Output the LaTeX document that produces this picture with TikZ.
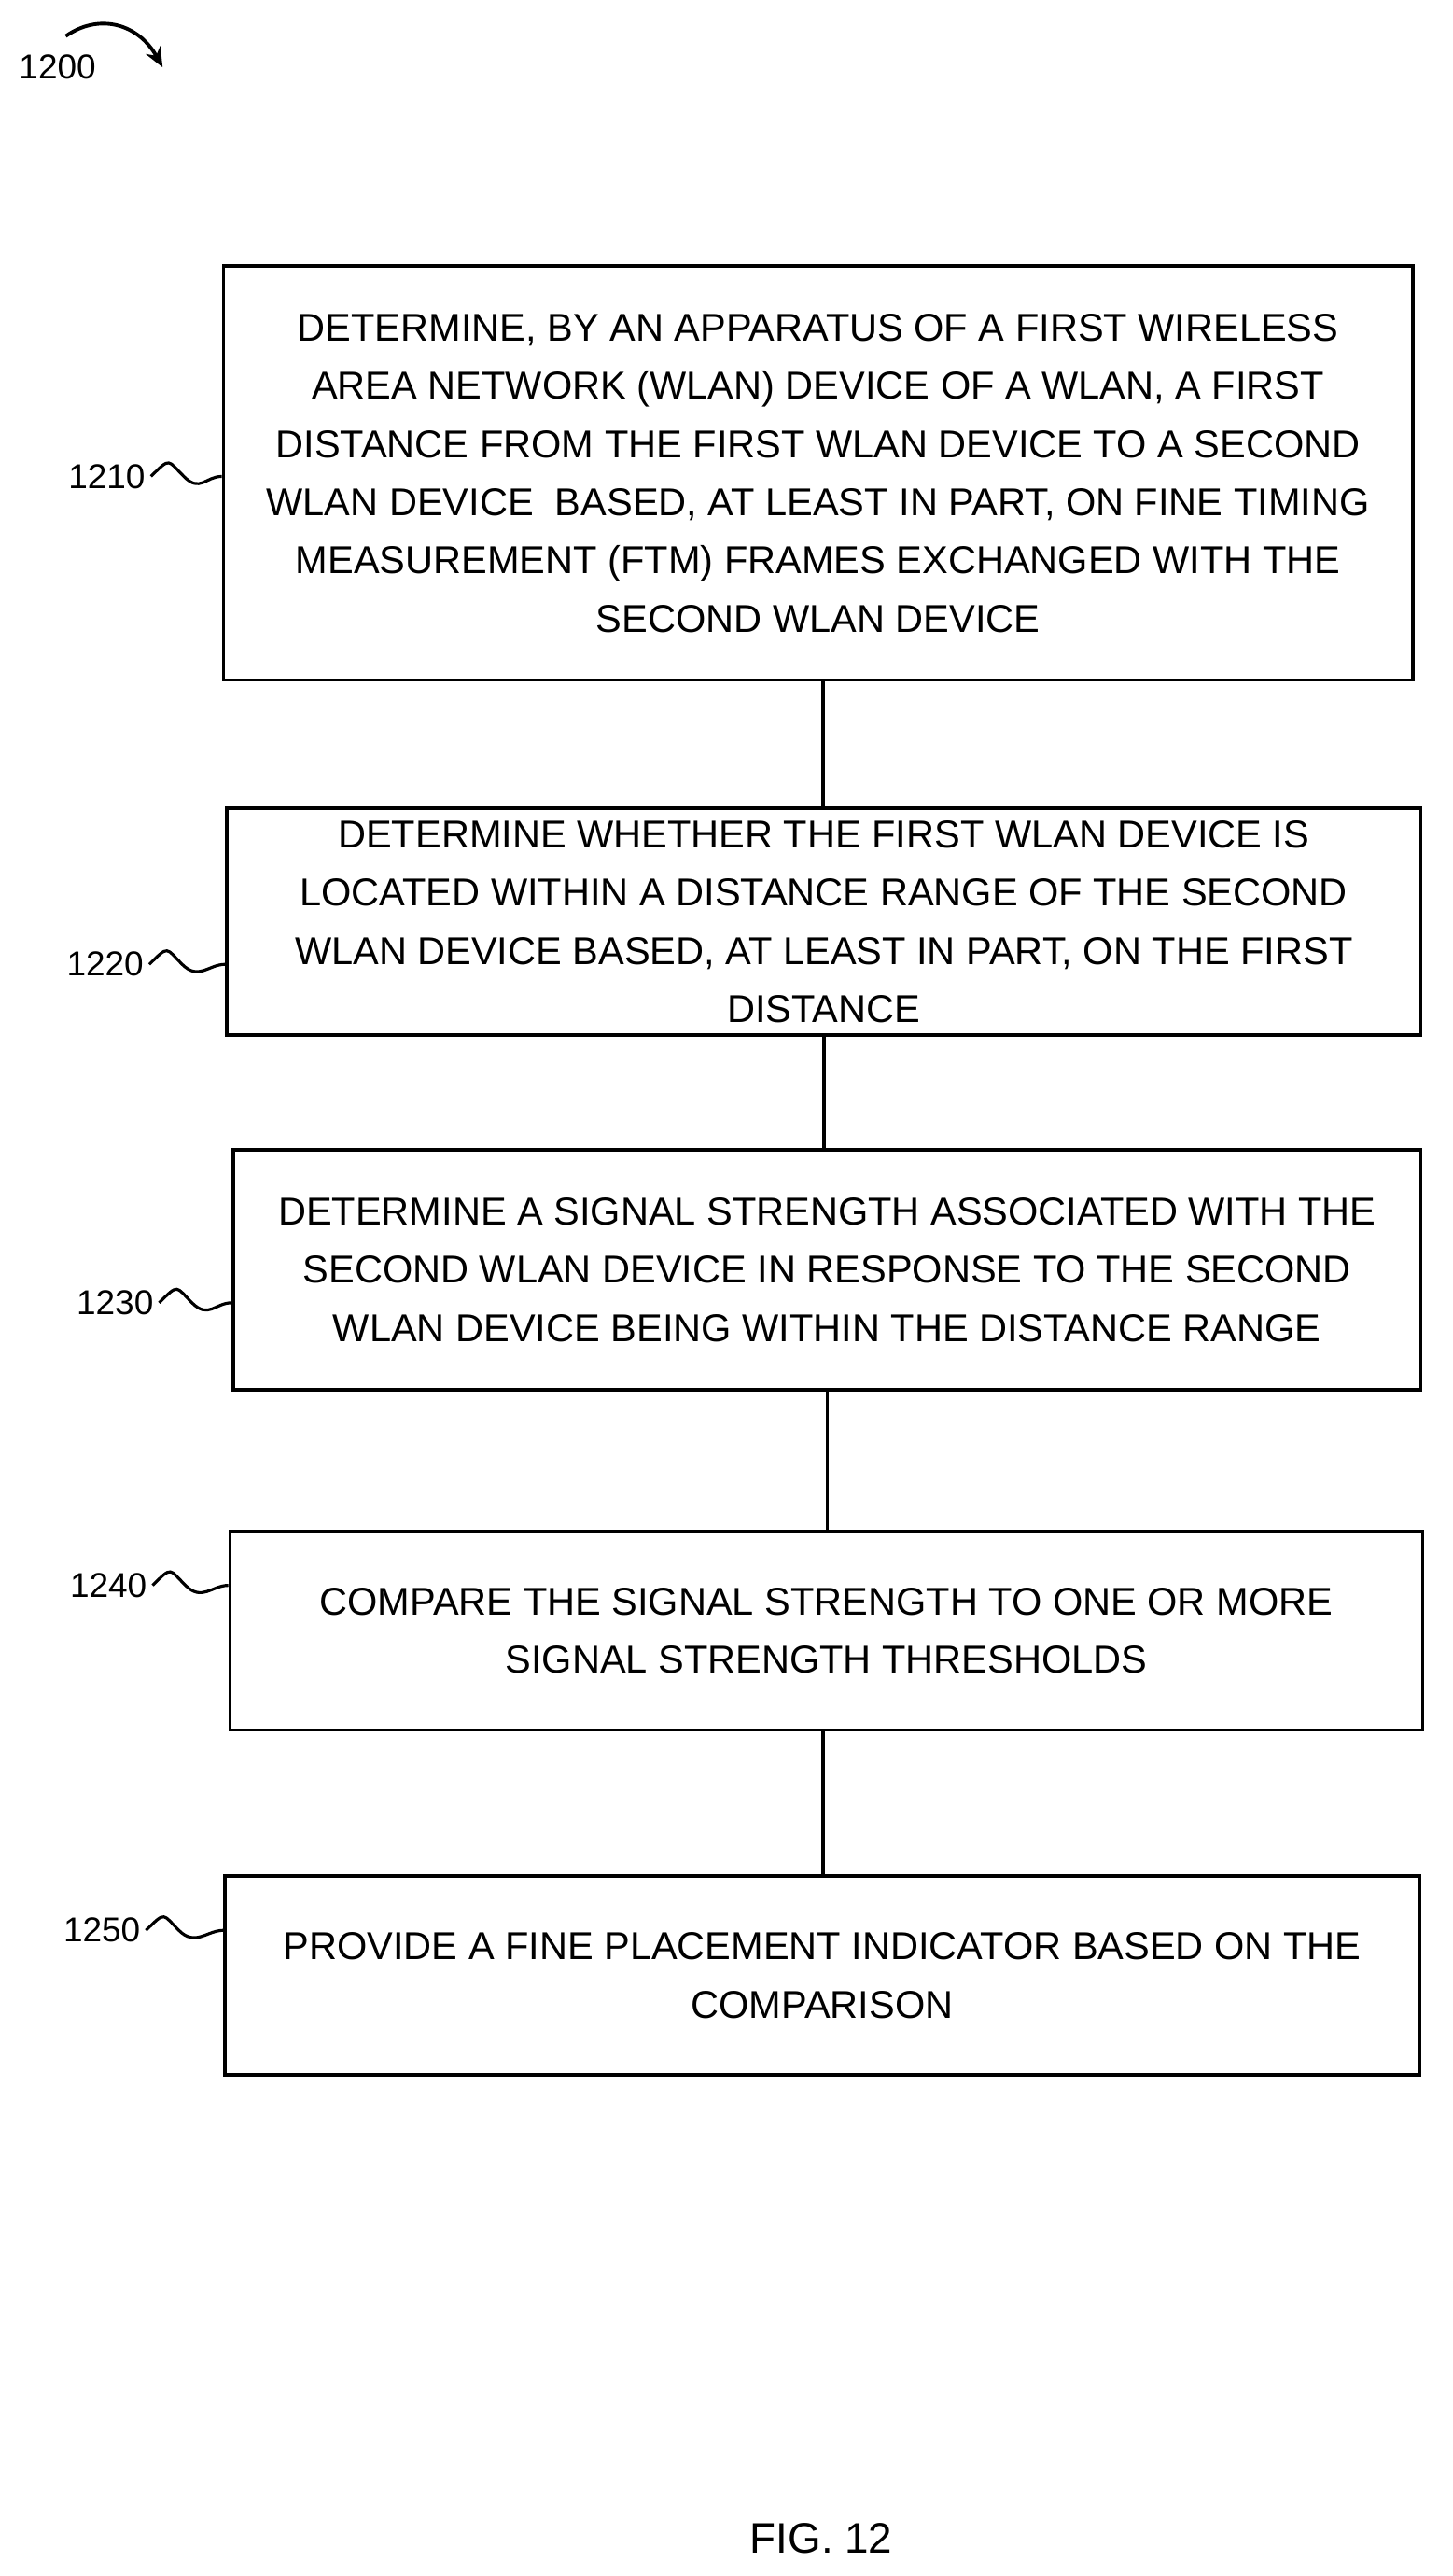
\documentclass[tikz,border=0pt]{standalone}
\usepackage{fontspec}
\setmainfont{Liberation Sans}
\usetikzlibrary{arrows.meta}
\begin{document}
\begin{tikzpicture}[x=1pt,y=-1pt,
  stepbox/.style={draw,line width=2pt,inner sep=0pt,align=center,font=\fontsize{23.6}{35.5}\selectfont},
  lab/.style={font=\fontsize{21}{24}\selectfont},
  sq/.style={line width=1.8pt}]
\useasboundingbox (0,0) rectangle (884,1568);
\node[stepbox,minimum width=724pt,minimum height=252pt] (b1) at (498,288) {DETERMINE, BY AN APPARATUS OF A FIRST WIRELESS\\AREA NETWORK (WLAN) DEVICE OF A WLAN, A FIRST\\DISTANCE FROM THE FIRST WLAN DEVICE TO A SECOND\\WLAN DEVICE\ \ BASED, AT LEAST IN PART, ON FINE TIMING\\MEASUREMENT (FTM) FRAMES EXCHANGED WITH THE\\SECOND WLAN DEVICE};
\node[stepbox,minimum width=727pt,minimum height=138pt] (b2) at (501.5,561) {DETERMINE WHETHER THE FIRST WLAN DEVICE IS\\LOCATED WITHIN A DISTANCE RANGE OF THE SECOND\\WLAN DEVICE BASED, AT LEAST IN PART, ON THE FIRST\\DISTANCE};
\node[stepbox,minimum width=723pt,minimum height=146pt] (b3) at (503.5,773) {DETERMINE A SIGNAL STRENGTH ASSOCIATED WITH THE\\SECOND WLAN DEVICE IN RESPONSE TO THE SECOND\\WLAN DEVICE BEING WITHIN THE DISTANCE RANGE};
\node[stepbox,minimum width=726pt,minimum height=121pt] (b4) at (503,992.5) {COMPARE THE SIGNAL STRENGTH TO ONE OR MORE\\SIGNAL STRENGTH THRESHOLDS};
\node[stepbox,minimum width=727pt,minimum height=121pt] (b5) at (500.5,1202.5) {PROVIDE A FINE PLACEMENT INDICATOR BASED ON THE\\COMPARISON};
\draw[line width=2pt] ([xshift=3pt]b1.south) -- ([xshift=3pt]b1.south|-b2.north);
\draw[line width=2pt] (b2.south) -- (b2.south|-b3.north);
\draw[line width=2pt] (b3.south) -- (b3.south|-b4.north);
\draw[line width=2pt] ([xshift=-2pt]b4.south) -- ([xshift=-2pt]b4.south|-b5.north);
\foreach \n/\t/\y/\x in {1/1210/290/65,2/1220/587/64,3/1230/793/70,4/1240/965/66,5/1250/1175/62}{
  \node[lab] (l\n) at (\x,\y) {\t};
  \draw[sq] (l\n.east) .. controls +(12,-12) and +(-10,-10) .. +(20,0) .. controls +(10,10) and +(-10,0) .. (b\n.west|-l\n.east);
}
\node[lab] (l0) at (35,41) {1200};
\coordinate (a0) at (99,41);
\draw[line width=2.2pt,-{Stealth[length=12pt,width=10pt]}] (40,22) .. controls (60,8) and (84,14) .. (a0);
\node[font=\fontsize{26}{30}\selectfont] (fig) at (500,1545) {FIG. 12};
\end{tikzpicture}
\end{document}
